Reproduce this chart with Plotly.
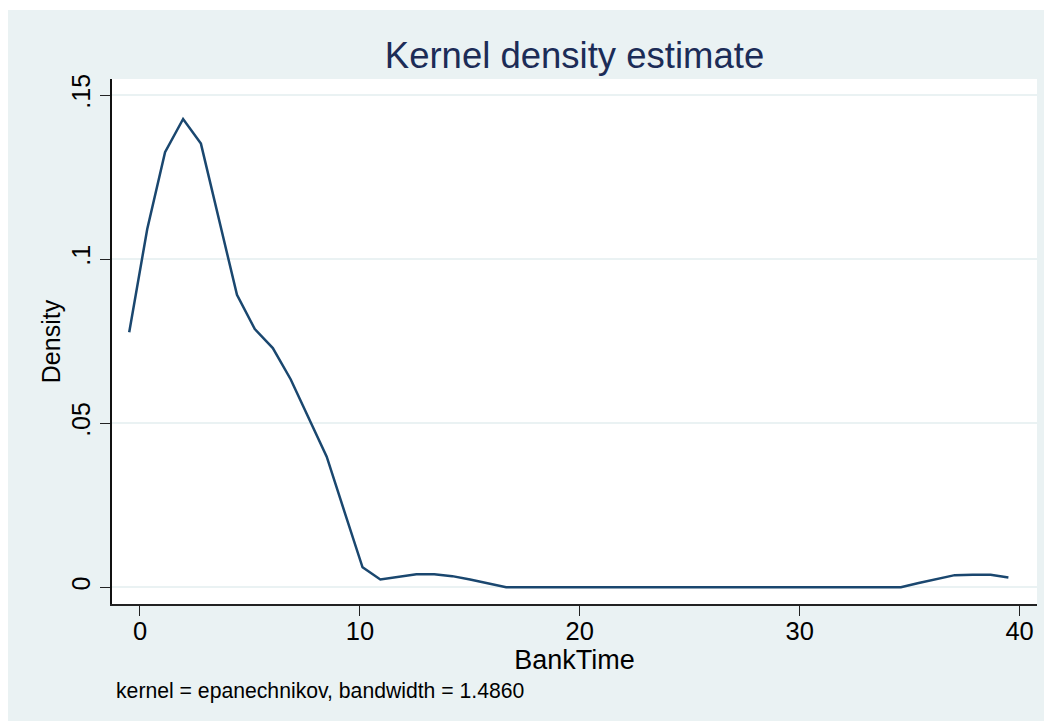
import plotly.graph_objects as go

# Evaluation points (BankTime) and kernel density estimates
bank_time = [-0.49, 0.33, 1.14, 1.96, 2.77, 3.59, 4.41, 5.22, 6.04, 6.85,
             7.67, 8.49, 9.30, 10.12, 10.93, 11.75, 12.57, 13.38, 14.20, 15.01,
             15.83, 16.65, 17.46, 18.28, 19.09, 19.91, 20.73, 21.54, 22.36, 23.17,
             23.99, 24.81, 25.62, 26.44, 27.25, 28.07, 28.89, 29.70, 30.52, 31.33,
             32.15, 32.97, 33.78, 34.60, 35.41, 36.23, 37.05, 37.86, 38.68, 39.49]
density = [0.0777, 0.1092, 0.1326, 0.1427, 0.1352, 0.1121, 0.0891, 0.0787, 0.0729, 0.0634,
           0.0518, 0.0398, 0.0230, 0.0061, 0.0024, 0.0033, 0.0040, 0.0040, 0.0034, 0.0024,
           0.0012, 0.0, 0.0, 0.0, 0.0, 0.0, 0.0, 0.0, 0.0, 0.0,
           0.0, 0.0, 0.0, 0.0, 0.0, 0.0, 0.0, 0.0, 0.0, 0.0,
           0.0, 0.0, 0.0, 0.0, 0.0013, 0.0026, 0.0037, 0.0038, 0.0038, 0.0030]

x_ticks = [0, 10, 20, 30, 40]
x_ticklabels = ["0", "10", "20", "30", "40"]
y_ticks = [0, 0.05, 0.1, 0.15]
y_ticklabels = ["0", ".05", ".1", ".15"]

title_text = "Kernel density estimate"
x_title = "BankTime"
y_title = "Density"
note_text = "kernel = epanechnikov, bandwidth = 1.4860"

BG = "#EAF2F3"
LINE = "#1A476F"
FONT = "Liberation Sans, Arial, sans-serif"

fig = go.Figure()
fig.add_trace(go.Scatter(x=bank_time, y=density, mode="lines",
                         line=dict(color=LINE, width=2.5), showlegend=False,
                         hoverinfo="x+y"))

fig.update_layout(
    width=1052, height=722,
    margin=dict(l=104, r=23, t=71, b=126, autoexpand=False),
    paper_bgcolor=BG,
    plot_bgcolor="white",
    font=dict(family=FONT, color="black"),
    title=dict(text=title_text, x=0.5, xref="paper", xanchor="center",
               y=1 - 47 / 722, yref="container", yanchor="middle",
               font=dict(size=36.5, color="#1C2C57", family=FONT)),
    xaxis=dict(range=[-1.273, 40.79], tickvals=x_ticks, ticktext=x_ticklabels,
               showgrid=False, zeroline=False, showline=True, linecolor="#222222",
               linewidth=1.5, ticks="outside", ticklen=10, tickwidth=1.3,
               tickcolor="#222222", tickfont=dict(size=25.5, color="black"),
               ticklabelstandoff=-6,
               title=dict(text=x_title, font=dict(size=27, color="black"), standoff=1)),
    yaxis=dict(range=[-0.00509, 0.15488], tickvals=y_ticks, ticktext=y_ticklabels,
               tickangle=-90, showgrid=True, gridcolor=BG, gridwidth=2,
               zeroline=False, showline=True, linecolor="#111111", linewidth=1.5,
               ticks="outside", ticklen=10, tickwidth=1.3, tickcolor="#222222",
               tickfont=dict(size=25, color="black"),
               title=dict(text=y_title, font=dict(size=25, color="black"), standoff=0)),
    annotations=[dict(text=note_text, xref="paper", yref="paper",
                      x=2 / 925, y=(604 - 691) / 525,
                      xanchor="left", yanchor="middle", showarrow=False,
                      font=dict(size=21.2, color="black", family=FONT))],
    shapes=[
        dict(type="rect", xref="paper", yref="paper", x0=-0.2, x1=1.2,
             y0=(604 - 10) / 525, y1=1.3, fillcolor="white", line=dict(width=0), layer="above"),
        dict(type="rect", xref="paper", yref="paper", x0=-0.2, x1=1.2,
             y0=-0.3, y1=(604 - 721) / 525, fillcolor="white", line=dict(width=0), layer="above"),
    ],
)

fig.write_html("out.html")
